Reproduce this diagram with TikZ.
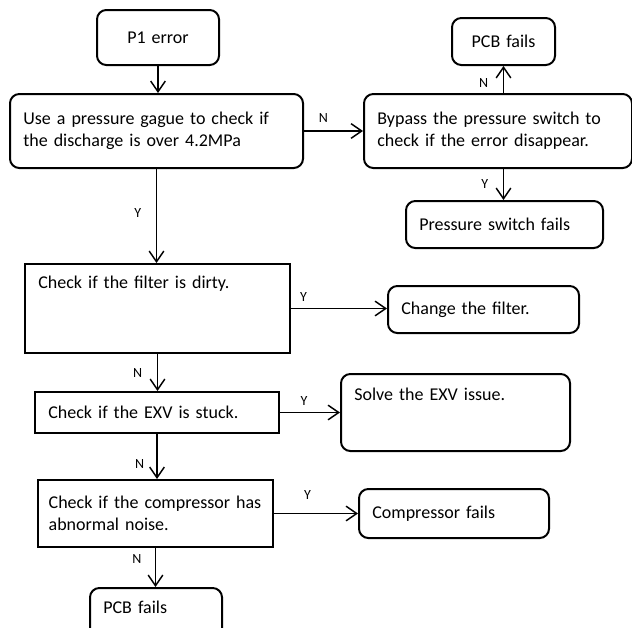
\documentclass[tikz,border=0pt]{standalone}
\usepackage{fontspec}
\setmainfont{Carlito}
\usetikzlibrary{arrows.meta}

\begin{document}
\begin{tikzpicture}[x=0.75pt, y=-0.75pt,
    box/.style={draw, line width=1.5pt, anchor=north west, align=left,
        inner xsep=10pt, inner ysep=4pt, font=\fontsize{13.5}{16.5}\selectfont},
    roundbox/.style={box, rounded corners=7pt},
    flow/.style={line width=1.1pt, -{Straight Barb[length=8pt, width=11pt]}},
    yn/.style={font=\fontsize{10.5}{12}\selectfont, inner sep=2pt}]

    \useasboundingbox (0,0) rectangle (632,628);
    \clip (0,0) rectangle (632,628);

    % first check
    \node[roundbox, align=center, text width=71.5pt, minimum height=41.25pt] (p1) at (96,9) {P1 error};
    \node[roundbox, text width=199.75pt, minimum height=55.5pt] (gauge) at (9,93)
        {Use a pressure gague to check if\\the discharge is over 4.2MPa};

    % pressure switch branch
    \node[roundbox, text width=181pt, minimum height=55.5pt] (bypass) at (363,93)
        {Bypass the pressure switch to\\check if the error disappear.};
    \node[roundbox, align=center, text width=57.25pt, minimum height=35.25pt] (pcbtop) at (451,17) {PCB fails};
    \node[roundbox, text width=127.75pt, minimum height=35.25pt] (pswitch) at (405,200) {Pressure switch fails};

    % main column
    \node[box, text width=178.75pt, text height=14.4pt, text depth=44.35pt] (filter) at (24,263)
        {Check if the filter is dirty.};
    \node[box, text width=163pt, minimum height=30.75pt] (exv) at (34,391) {Check if the EXV is stuck.};
    \node[box, inner xsep=8pt, text width=160.25pt, minimum height=50.25pt] (comp) at (37,479)
        {Check if the compressor has\\abnormal noise.};
    \node[roundbox, text width=79pt, text height=15.1pt, text depth=14.4pt] (pcbbot) at (89,587) {PCB fails};

    % results
    \node[roundbox, text width=123.25pt, minimum height=35.25pt] (change) at (387,285) {Change the filter.};
    \node[roundbox, text width=151.75pt, text height=15.9pt, text depth=33.85pt] (solve) at (340,373)
        {Solve the EXV issue.};
    \node[roundbox, text width=122.5pt, minimum height=36.75pt] (compfail) at (358,488) {Compressor fails};

    % connectors
    \draw[flow] (p1.south) -- (p1.south |- gauge.north);
    \draw[flow] (gauge.east) -- (bypass.west) node[yn, pos=0.33, above=4pt] {N};
    \draw[flow] (bypass.north -| pcbtop.south) -- (pcbtop.south) node[yn, pos=0.38, left=9pt] {N};
    \draw[flow] (bypass.south -| pcbtop.south) -- (pswitch.north -| pcbtop.south) node[yn, pos=0.48, left=9pt] {Y};
    \draw[flow] (gauge.south) -- (gauge.south |- filter.north) node[yn, pos=0.47, left=9pt] {Y};
    \draw[flow] (filter.east) -- (filter.east -| change.west) node[yn, pos=0.13, above=3pt] {Y};
    \draw[flow] (filter.south) -- (filter.south |- exv.north) node[yn, pos=0.51, left=9pt] {N};
    \draw[flow] (exv.east) -- (exv.east -| solve.west) node[yn, pos=0.4, above=3pt] {Y};
    \draw[flow] (exv.south) -- (exv.south |- comp.north) node[yn, pos=0.66, left=7pt] {N};
    \draw[flow] (comp.east) -- (comp.east -| compfail.west) node[yn, pos=0.4, above=8pt] {Y};
    \draw[flow] (comp.south) -- (comp.south |- pcbbot.north) node[yn, pos=0.29, left=8pt] {N};

\end{tikzpicture}
\end{document}
